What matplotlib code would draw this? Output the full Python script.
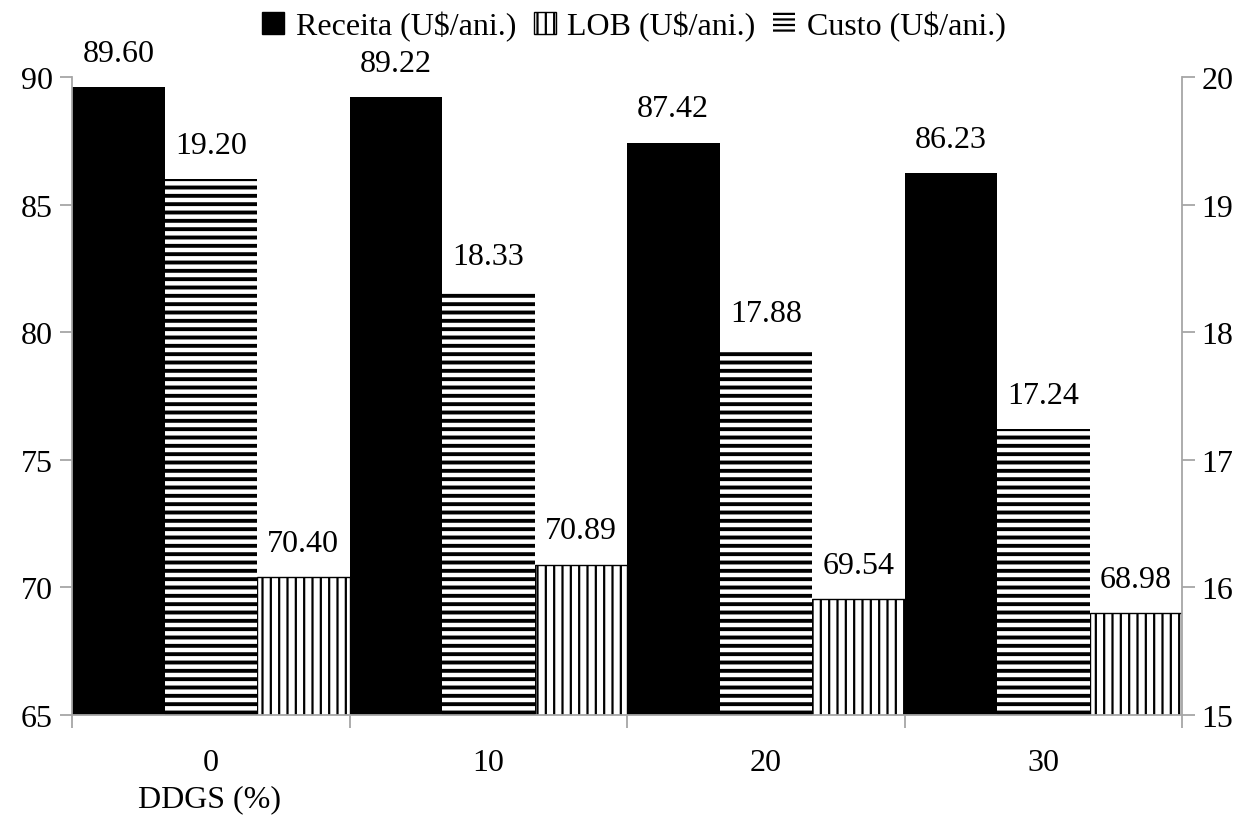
import matplotlib
matplotlib.use("Agg")
import matplotlib.pyplot as plt
from matplotlib.patches import Patch
import numpy as np

categories = ["0", "10", "20", "30"]
receita = [89.60, 89.22, 87.42, 86.23]
lob = [19.20, 18.33, 17.88, 17.24]
custo = [70.40, 70.89, 69.54, 68.98]
left_ticks = [65, 70, 75, 80, 85, 90]
right_ticks = [15, 16, 17, 18, 19, 20]

plt.rcParams['font.family'] = ['Liberation Serif', 'DejaVu Serif']
FS = 23
plt.rcParams['font.size'] = FS

fig = plt.figure(figsize=(12.5, 8.2), dpi=100)
ax = fig.add_axes([0.0576, 0.1268, 0.888, 0.7781])
ax2 = ax.twinx()

x = np.arange(len(categories))
w = 1 / 3
gray = '#a6a6a6'

b1 = ax.bar(x - w, receita, w, color='black', edgecolor='black', linewidth=0)
plt.rcParams['hatch.linewidth'] = 2.8
b2 = ax2.bar(x, lob, w, color='white', edgecolor='black', hatch='--', linewidth=0)
plt.rcParams['hatch.linewidth'] = 1.6
b3 = ax.bar(x + w, custo, w, color='white', edgecolor='black', hatch='||', linewidth=1.0)

ax.set_ylim(65, 90)
ax2.set_ylim(15, 20)
ax.set_xlim(-0.5, len(categories) - 0.5)
ax.set_yticks(left_ticks)
ax2.set_yticks(right_ticks)

ax.set_xticks(np.arange(len(categories) + 1) - 0.5)
ax.set_xticklabels([])
ax.set_xticks(x, minor=True)
ax.set_xticklabels(categories, minor=True)
ax.tick_params(axis='x', which='minor', length=0, pad=24)
ax.tick_params(axis='x', which='major', length=9, color=gray, direction='out', width=1.3)
ax.tick_params(axis='y', length=9, color=gray, width=1.3, pad=5)
ax2.tick_params(axis='y', length=9, color=gray, width=1.3, pad=5)

for a in (ax, ax2):
    a.spines['top'].set_visible(False)
    for s in ('left', 'right', 'bottom'):
        a.spines[s].set_color(gray)
        a.spines[s].set_linewidth(1.3)
ax.spines['right'].set_visible(False)
ax2.spines['left'].set_visible(False)
ax2.spines['bottom'].set_visible(False)

OFF = 19
for xi, v in zip(x - w, receita):
    ax.annotate(f"{v:.2f}", (xi, v), xytext=(0, OFF), textcoords='offset points',
                ha='center', va='baseline', fontsize=FS)
for xi, v in zip(x, lob):
    ax2.annotate(f"{v:.2f}", (xi, v), xytext=(0, OFF), textcoords='offset points',
                 ha='center', va='baseline', fontsize=FS)
for xi, v in zip(x + w, custo):
    ax.annotate(f"{v:.2f}", (xi, v), xytext=(0, OFF), textcoords='offset points',
                ha='center', va='baseline', fontsize=FS)

fig.text(0.168, 1 - 800 / 820, "DDGS (%)", ha='center', va='center', fontsize=FS)

handles = [
    Patch(facecolor='black', edgecolor='black', label='Receita (U$/ani.)'),
    Patch(facecolor='white', edgecolor='black', hatch='||', linewidth=1.0, label='LOB (U$/ani.)'),
    Patch(facecolor='white', edgecolor='black', hatch='---', linewidth=0, label='Custo (U$/ani.)'),
]
fig.legend(handles=handles, loc='center', bbox_to_anchor=(0.507, 1 - 27 / 820), ncol=3,
           frameon=False, handlelength=0.7, handleheight=0.7, handletextpad=0.35,
           columnspacing=0.55, fontsize=FS, borderaxespad=0.0, borderpad=0.0)

fig.savefig("out.png", dpi=100)
